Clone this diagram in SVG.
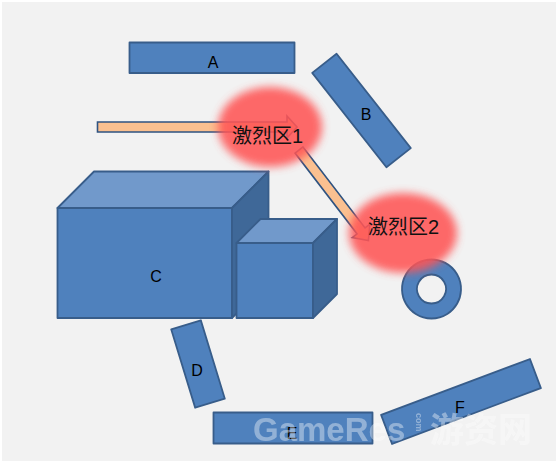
<svg xmlns="http://www.w3.org/2000/svg" width="558" height="464" viewBox="0 0 558 464">
<defs>
<style>
.shape{fill:#4f81bd;stroke:#385d8a;stroke-width:1.8;stroke-linejoin:round}
.top{fill:#7199cb;stroke:#385d8a;stroke-width:1.8;stroke-linejoin:round}
.side{fill:#3f6898;stroke:#385d8a;stroke-width:1.8;stroke-linejoin:round}
.lbl{font-family:"Liberation Sans","DejaVu Sans",sans-serif;font-size:16px;fill:#000;text-anchor:middle}
.hot{font-family:"Liberation Sans","Noto Sans CJK SC",sans-serif;font-size:20px;fill:#111}
.arrow{fill:#fac090;stroke:#2f5381;stroke-width:1.6;stroke-linejoin:miter}
.glow{fill:#ff5555;opacity:0.88;filter:url(#blur)}
.wm{font-family:"Liberation Sans","Noto Sans CJK SC",sans-serif;font-weight:bold;fill:#ffffff;opacity:0.38}
</style>
<filter id="blur" x="-30%" y="-30%" width="160%" height="160%">
<feGaussianBlur stdDeviation="4"/>
</filter>
</defs>
<rect x="0" y="0" width="558" height="464" fill="#ffffff"/>
<rect x="2" y="2" width="554" height="459" fill="#f2f2f2"/>

<g id="A">
<rect class="shape" x="129.5" y="42.5" width="165" height="30.5"/>
<text class="lbl" x="213" y="68">A</text>
</g>
<g id="B">
<rect class="shape" x="301.5" y="95" width="120" height="31" transform="rotate(51.8 361.5 110.5)"/>
<text class="lbl" x="366" y="120">B</text>
</g>
<g id="C">
<rect class="shape" x="57.5" y="208" width="174.5" height="110"/>
<polygon class="top" points="57.5,208 94,171.5 268.5,171.5 232,208"/>
<polygon class="side" points="232,208 268.5,171.5 268.5,281.5 232,318"/>
<rect class="shape" x="236.5" y="243" width="76.5" height="75"/>
<polygon class="top" points="236.5,243 260.5,219 337,219 313,243"/>
<polygon class="side" points="313,243 337,219 337,294 313,318"/>
<text class="lbl" x="156" y="282">C</text>
</g>
<g id="D">
<rect class="shape" x="182.5" y="323" width="31" height="82" transform="rotate(-17 198 364)"/>
<text class="lbl" x="197" y="376">D</text>
</g>
<g id="E">
<rect class="shape" x="213.5" y="412.5" width="159" height="31"/>
<text class="lbl" x="292" y="439">E</text>
</g>
<g id="F">
<rect class="shape" x="381.5" y="386" width="159" height="31" transform="rotate(-20.6 461 401.5)"/>
<text class="lbl" x="460" y="413">F</text>
</g>
<g id="ring">
<path class="shape" fill-rule="evenodd" d="M431.5,259.5a29.5,29.5 0 1,0 0.01,0ZM431.5,274.5a14.5,14.5 0 1,1 -0.01,0Z"/>
</g>

<g id="connectors">
<path class="arrow" d="M97.5,122 L287,122 L287,116 L297,127 L287,138 L287,132 L97.5,132 Z"/>
<path class="arrow" transform="translate(299 150) rotate(52.5)" d="M0,-5 L102,-5 L102,-11 L114,0 L102,11 L102,5 L0,5 Z"/>
</g>

<g id="hot1">
<ellipse class="glow" cx="270" cy="127" rx="52" ry="40"/>
<text class="hot" x="232" y="143">激烈区1</text>
</g>
<g id="hot2">
<ellipse class="glow" cx="403" cy="233" rx="54" ry="40"/>
<text class="hot" x="368" y="234">激烈区2</text>
</g>

<g id="watermark">
<text class="wm" x="253" y="441" font-size="33">GameRes</text>
<text class="wm" x="0" y="0" font-size="9" transform="translate(416 413) rotate(90)">com</text>
<text class="wm" x="430" y="442" font-size="34">游资网</text>
</g>
</svg>
